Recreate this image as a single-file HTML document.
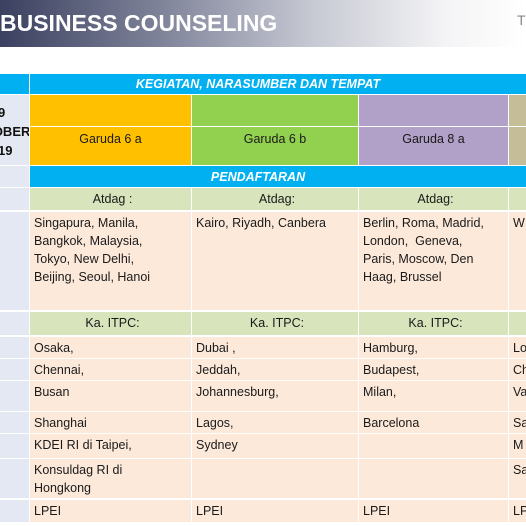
<!DOCTYPE html>
<html><head><meta charset="utf-8"><style>
*{margin:0;padding:0;box-sizing:border-box}
body{width:526px;height:526px;overflow:hidden;background:#fff;font-family:"Liberation Sans",sans-serif;position:relative}
.c{position:absolute;font-size:12.5px;color:#1a1a1a;line-height:18px;overflow:hidden;white-space:nowrap}
.ctr{text-align:center}
.pk{background:#fde9da}.gr{background:#d8e4bc}.lb{background:#e4e8f2}
</style></head><body>
<div style="position:absolute;left:0;top:0;width:526px;height:47px;background:linear-gradient(90deg,#3b4060 0%,#7e8298 30%,#c8cad4 60%,#f4f4f6 85%,#fff 100%)"></div>
<div style="position:absolute;left:0;top:10px;font-size:23px;font-weight:bold;color:#fff;white-space:nowrap">BUSINESS COUNSELING</div>
<div style="position:absolute;left:517px;top:12px;font-size:14px;color:#888">T</div>
<div id="t"></div>
<div style="position:absolute;left:0;top:95px;width:29px;height:70px;background:#e4e8f2;overflow:hidden">
<div style="position:absolute;left:-62px;top:8px;width:120px;text-align:center;font-weight:bold;font-size:13px;line-height:19px;color:#111">29<br>OKTOBER<br>2019</div>
</div>
<script>
const t=document.getElementById('t');
const cols=[[0,29],[30,191],[192,358],[359,508],[509,526]];
function cell(x1,x2,y1,y2,bg,txt,cls,name,extra){
 const d=document.createElement('div');
 d.className='c '+(cls||'');
 d.style.left=x1+'px';d.style.top=y1+'px';d.style.width=(x2-x1)+'px';d.style.height=(y2-y1)+'px';
 if(bg)d.style.background=bg;
 if(extra)d.style.cssText+=extra;
 d.innerHTML=txt||'';
 
 
 t.appendChild(d);
}
cell(0,29,74,94,'#00b0f0','','','left-header');
cell(30,526,74,94,'#00b0f0','KEGIATAN, NARASUMBER DAN TEMPAT','ctr','activity-header','color:#fff;font-weight:bold;font-style:italic;line-height:20px;padding-right:40px');
const rc=['#ffc000','#92d050','#b1a0c7','#c4bd97'];
const rn=['Garuda 6 a','Garuda 6 b','Garuda 8 a',''];
for(let i=0;i<4;i++){
 const [a,b]=cols[i+1];
 cell(a,b,95,126,rc[i],'','','room-top-'+i);
 cell(a,b,127,165,rc[i],rn[i],'ctr','room-'+i,'line-height:20px;padding-top:2px');
}
cell(0,29,166,187,'#e4e8f2','','','left-blank');
cell(30,526,166,187,'#00b0f0','PENDAFTARAN','ctr','registration-header','color:#fff;font-weight:bold;font-style:italic;line-height:22px;padding-right:40px');
const rows=[[188,210,'gr',['Atdag :','Atdag:','Atdag:',''],1],
[212,310,'pk',['Singapura, Manila,<br>Bangkok, Malaysia,<br>Tokyo, New Delhi,<br>Beijing, Seoul, Hanoi','Kairo, Riyadh, Canbera','Berlin, Roma, Madrid,<br>London,&nbsp; Geneva,<br>Paris, Moscow, Den<br>Haag, Brussel','W'],0],
[312,335,'gr',['Ka. ITPC:','Ka. ITPC:','Ka. ITPC:',''],1],
[337,358,'pk',['Osaka,','Dubai ,','Hamburg,','Lo'],0],
[359,380,'pk',['Chennai,','Jeddah,','Budapest,','Ch'],0],
[381,411,'pk',['Busan','Johannesburg,','Milan,','Va'],0],
[412,433,'pk',['Shanghai','Lagos,','Barcelona','Sa'],0],
[434,458,'pk',['KDEI RI di Taipei,','Sydney','','M'],0],
[459,498,'pk',['Konsuldag RI di<br>Hongkong','','','Sa'],0],
[500,522,'pk',['LPEI','LPEI','LPEI','LP'],0]];
rows.forEach((r,ri)=>{
 cell(0,29,r[0],r[1],'#e4e8f2','','','left-row-'+ri);
 for(let i=0;i<4;i++){
  const [a,b]=cols[i+1];
  cell(a,b,r[0],r[1],'',r[3][i],r[2]+(r[4]?' ctr':''),'cell-'+ri+'-'+i,'padding:2px 0 0 4px');
 }
});
</script>
</body></html>
